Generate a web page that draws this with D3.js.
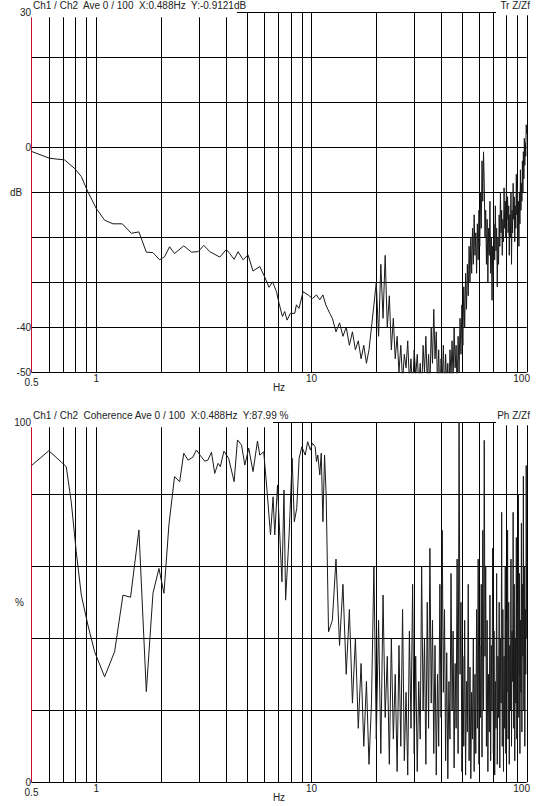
<!DOCTYPE html>
<html>
<head>
<meta charset="utf-8">
<script src="https://cdn.jsdelivr.net/npm/d3@7"></script>
<style>
  body { margin: 0; background: #fff; }
  text { font-family: "Liberation Sans", Arial, sans-serif; font-size: 10px; fill: #222; white-space: pre; }
</style>
</head>
<body>
<div id="myVis"></div>
<script>
var width = 540, height = 806;

// vertical grid positions (Hz)
const xGrid = [0.6,0.7,0.8,0.9,1,2,3,4,5,6,7,8,9,10,20,30,40,50,60,70,80,90,100];
const xLabels = [0.5, 1, 10, 100];

// transfer function magnitude, below 12 Hz
const magFreqLow = [0.5,0.607,0.712,0.793,0.852,0.914,1.0,1.093,1.195,1.32,1.455,1.578,1.708,1.834,1.97,2.078,2.19,2.31,2.55,2.77,2.97,3.16,3.37,3.75,4.02,4.17,4.37,4.56,4.81,5.07,5.35,5.75,6.06,6.35,6.59,6.88,7.07,7.33,7.51,7.7,7.98,8.36,8.51,8.75,9.14,9.64,10.1,10.55,10.93,11.3,11.65,12.16];
const magDbLow = [-0.91,-2.45,-2.8,-4.7,-6.5,-9.9,-13.6,-16.2,-17,-17,-19.1,-18.8,-23.3,-23.4,-25,-24.3,-22.1,-23.6,-21.9,-23.3,-23.2,-21.8,-23.2,-24.4,-22.7,-23.6,-24.9,-23.2,-25,-23.9,-27.5,-26.5,-28.8,-31.1,-29.9,-32.1,-34.7,-37.6,-36.5,-38.4,-36.9,-36.9,-35,-35.8,-32.1,-32.8,-33.6,-32.8,-33.9,-32.8,-35,-36.9];

// coherence, below 12 Hz
const cohFreqLow = [0.5,0.602,0.725,0.765,0.807,0.852,0.914,0.982,1.093,1.217,1.33,1.443,1.578,1.708,1.834,1.955,2.063,2.175,2.31,2.44,2.55,2.67,2.81,2.92,3.05,3.19,3.3,3.43,3.55,3.68,3.77,3.92,4.12,4.37,4.53,4.73,4.9,5.11,5.35,5.61,5.75,6.0,6.22,6.45,6.63,6.75,6.95,7.29,7.45,7.58,7.87,8.13,8.32,8.54,8.76,9.02,9.35,9.6,9.88,10.1,10.4,10.55,10.7,10.93,11.1,11.3,11.5,11.7,12.0];
const cohPctLow = [88,92.1,87.7,77.9,64.1,52,43.7,36.3,29.3,36.3,52,51.4,70.1,25.2,52.5,59.4,52.5,71.5,84.9,83.5,91.4,89.5,90.3,92.3,90.7,89.2,89.5,91.7,85.8,88.6,87.7,92,90,83.5,95.1,93.7,88.1,92.8,86.3,94.8,90.9,91.8,80.7,68.7,79.3,68.7,82.6,55.7,81.2,50.6,68.7,90,72.4,76.1,90,93.2,90.9,94.6,92.3,94.2,93.2,89.1,90.9,85.4,91.4,72.4,90.9,79.8,41.8];

// 12.5 .. 100 Hz, 0.5 Hz lines (shared by both traces)
const freqHigh = [12.5,13,13.5,14,14.5,15,15.5,16,16.5,17,17.5,18,18.5,19,19.5,20,20.5,21,21.5,22,22.5,23,23.5,24,24.5,25,25.5,26,26.5,27,27.5,28,28.5,29,29.5,30,
  30.5,31,31.5,32,32.5,33,33.5,34,34.5,35,35.5,36,36.5,37,37.5,38,38.5,39,39.5,40,40.5,41,41.5,42,42.5,43,43.5,44,44.5,45,45.5,46,46.5,47,47.5,48,48.5,49,49.5,50,
  50.5,51,51.5,52,52.5,53,53.5,54,54.5,55,55.5,56,56.5,57,57.5,58,58.5,59,59.5,60,60.5,61,61.5,62,62.5,63,63.5,64,64.5,65,65.5,66,66.5,67,67.5,68,68.5,69,69.5,70,
  70.5,71,71.5,72,72.5,73,73.5,74,74.5,75,75.5,76,76.5,77,77.5,78,78.5,79,79.5,80,80.5,81,81.5,82,82.5,83,83.5,84,84.5,85,85.5,86,86.5,87,87.5,88,88.5,89,89.5,90,
  90.5,91,91.5,92,92.5,93,93.5,94,94.5,95,95.5,96,96.5,97,97.5,98,98.5,99,99.5,100];

const magDbHigh = [-38,-41,-39,-42,-40,-44,
  -41,-45,-43,-47,-44,
  -48,-45,-40,-35,-30,-42,-26,-38,-24,-40,-33,-45,-38,-47,-42,
  -50,-44,-52,-46,-49,-43,-52,-47,-55,-45,
  -51,-46,-53,-48,-55,-44,-50,-42,-52,-46,
  -54,-40,-48,-36,-47,-41,-53,-45,-56,-47,
  -52,-44,-55,-46,-53,-48,-56,-45,-51,-43,
  -52,-40,-49,-44,-55,-42,-50,-38,-46,-35,
  -44,-31,-40,-28,-36,-26,-33,-22,-30,-20,
  -28,-18,-26,-15,-24,-19,-28,-17,-25,-14,
  -22,-10,-18,-3,-12,-1,-8,-20,-14,-26,
  -16,-30,-18,-24,-12,-28,-20,-34,-22,-29,
  -17,-25,-13,-23,-18,-31,-20,-26,-15,-22,
  -10,-19,-14,-24,-16,-21,-9,-18,-12,-20,
  -8,-16,-11,-19,-13,-24,-15,-20,-10,-26,
  -14,-19,-8,-16,-11,-21,-13,-18,-6,-15,
  -9,-19,-12,-22,-10,-17,-5,-14,-8,-12,
  -3,-10,-1,-7,2,-4,1,-2,5,3];

const cohPctHigh = [45,62,38,55,30,48,22,40,15,33,
  10,28,5,22,60,12,45,8,52,18,
  35,5,40,12,30,3,38,10,48,6,
  25,2,42,15,55,8,35,3,28,12,
  60,20,40,5,50,15,65,22,45,8,
  38,2,30,10,55,18,70,25,48,6,
  36,1,28,12,58,20,42,4,33,15,
  62,8,100,30,50,3,35,10,45,2,
  28,14,55,6,32,1,25,12,40,3,
  30,8,48,15,62,5,38,18,55,7,
  70,20,95,35,60,10,45,3,30,14,
  52,6,38,20,65,8,42,2,28,15,
  58,5,35,18,50,4,40,22,75,10,
  48,3,35,15,60,8,45,25,70,12,
  50,5,38,20,62,10,42,28,75,15,
  55,6,40,22,68,12,50,30,80,18,
  58,8,45,25,72,14,55,35,85,20,
  60,10,48,30,88,40];

const magFreq = magFreqLow.concat(freqHigh), magDb = magDbLow.concat(magDbHigh);
const cohFreq = cohFreqLow.concat(freqHigh), cohPct = cohPctLow.concat(cohPctHigh);

const svg = d3.select("#myVis").append("svg")
    .attr("width", width)
    .attr("height", height);

var xScale = d3.scaleLog().domain([0.5, 100]).range([31.5, 526.7]);

function panel(cfg) {
  var yScale = d3.scaleLinear().domain(cfg.domain).range([cfg.bottom, cfg.top]);
  var g = svg.append("g");

  // horizontal grid
  g.selectAll("line.h").data(cfg.yGrid).enter().append("line")
      .attr("x1", xScale(0.5)).attr("x2", xScale(100))
      .attr("y1", d => Math.round(yScale(d)) + 0.5).attr("y2", d => Math.round(yScale(d)) + 0.5)
      .attr("stroke", "#000").attr("stroke-width", 1);

  // vertical grid
  g.selectAll("line.v").data(xGrid).enter().append("line")
      .attr("x1", d => Math.round(xScale(d)) + 0.5).attr("x2", d => Math.round(xScale(d)) + 0.5)
      .attr("y1", cfg.top).attr("y2", cfg.bottom)
      .attr("stroke", "#000").attr("stroke-width", 1);

  // red left axis
  g.append("line")
      .attr("x1", 31.5).attr("x2", 31.5)
      .attr("y1", cfg.top).attr("y2", cfg.bottom)
      .attr("stroke", "#c8102e").attr("stroke-width", 1);

  var clipId = "clip" + cfg.id;
  svg.append("clipPath").attr("id", clipId).append("rect")
      .attr("x", 31).attr("y", cfg.top - 1)
      .attr("width", xScale(100) - 31 + 1).attr("height", cfg.bottom - cfg.top + 2);

  var line = d3.line()
      .x((d, i) => xScale(cfg.freq[i]))
      .y(d => yScale(d));

  g.append("path")
      .datum(cfg.values)
      .attr("clip-path", "url(#" + clipId + ")")
      .attr("d", line)
      .attr("fill", "none")
      .attr("stroke", "#1a1a1a")
      .attr("stroke-width", 1);

  // header boxes
  g.append("rect").attr("x", 31).attr("y", cfg.top - 12).attr("width", cfg.headW).attr("height", 17).attr("fill", "#fff");
  g.append("rect").attr("x", 496).attr("y", cfg.top - 12).attr("width", 44).attr("height", 15).attr("fill", "#fff");

  g.append("text").attr("x", 33).attr("y", cfg.top - 3).text(cfg.title);
  g.append("text").attr("x", 530).attr("y", cfg.top - 3).attr("text-anchor", "end").text(cfg.tag);

  // y labels
  g.selectAll("text.yl").data(cfg.yLabels).enter().append("text")
      .attr("x", 31).attr("y", d => yScale(d) + 3.5)
      .attr("text-anchor", "end")
      .text(d => d);
  g.append("text").attr("x", cfg.unitX).attr("y", yScale(cfg.unitAt) + 3.5).text(cfg.unit);

  // x labels
  g.selectAll("text.xl").data(xLabels).enter().append("text")
      .attr("x", d => d == 100 ? 530 : xScale(d))
      .attr("y", d => cfg.bottom + (d == 0.5 ? 14 : 10))
      .attr("text-anchor", d => d == 100 ? "end" : "middle")
      .text(d => d);
  g.append("text").attr("x", 279).attr("y", cfg.bottom + 19).attr("text-anchor", "middle").text("Hz");
}

panel({
  id: "mag", top: 12.3, bottom: 372.3, domain: [-50, 30],
  yGrid: [30,20,10,0,-10,-20,-30,-40,-50], yLabels: [30,0,-40,-50],
  unit: "dB", unitAt: -10, unitX: 10,
  freq: magFreq, values: magDb,
  title: "Ch1 / Ch2  Ave 0 / 100  X:0.488Hz  Y:-0.9121dB", tag: "Tr Z/Zf", headW: 206
});

panel({
  id: "coh", top: 422.3, bottom: 782.3, domain: [0, 100],
  yGrid: [100,80,60,40,20,0], yLabels: [100,0],
  unit: "%", unitAt: 50, unitX: 15,
  freq: cohFreq, values: cohPct,
  title: "Ch1 / Ch2  Coherence Ave 0 / 100  X:0.488Hz  Y:87.99 %", tag: "Ph Z/Zf", headW: 242
});
</script>
</body>
</html>
